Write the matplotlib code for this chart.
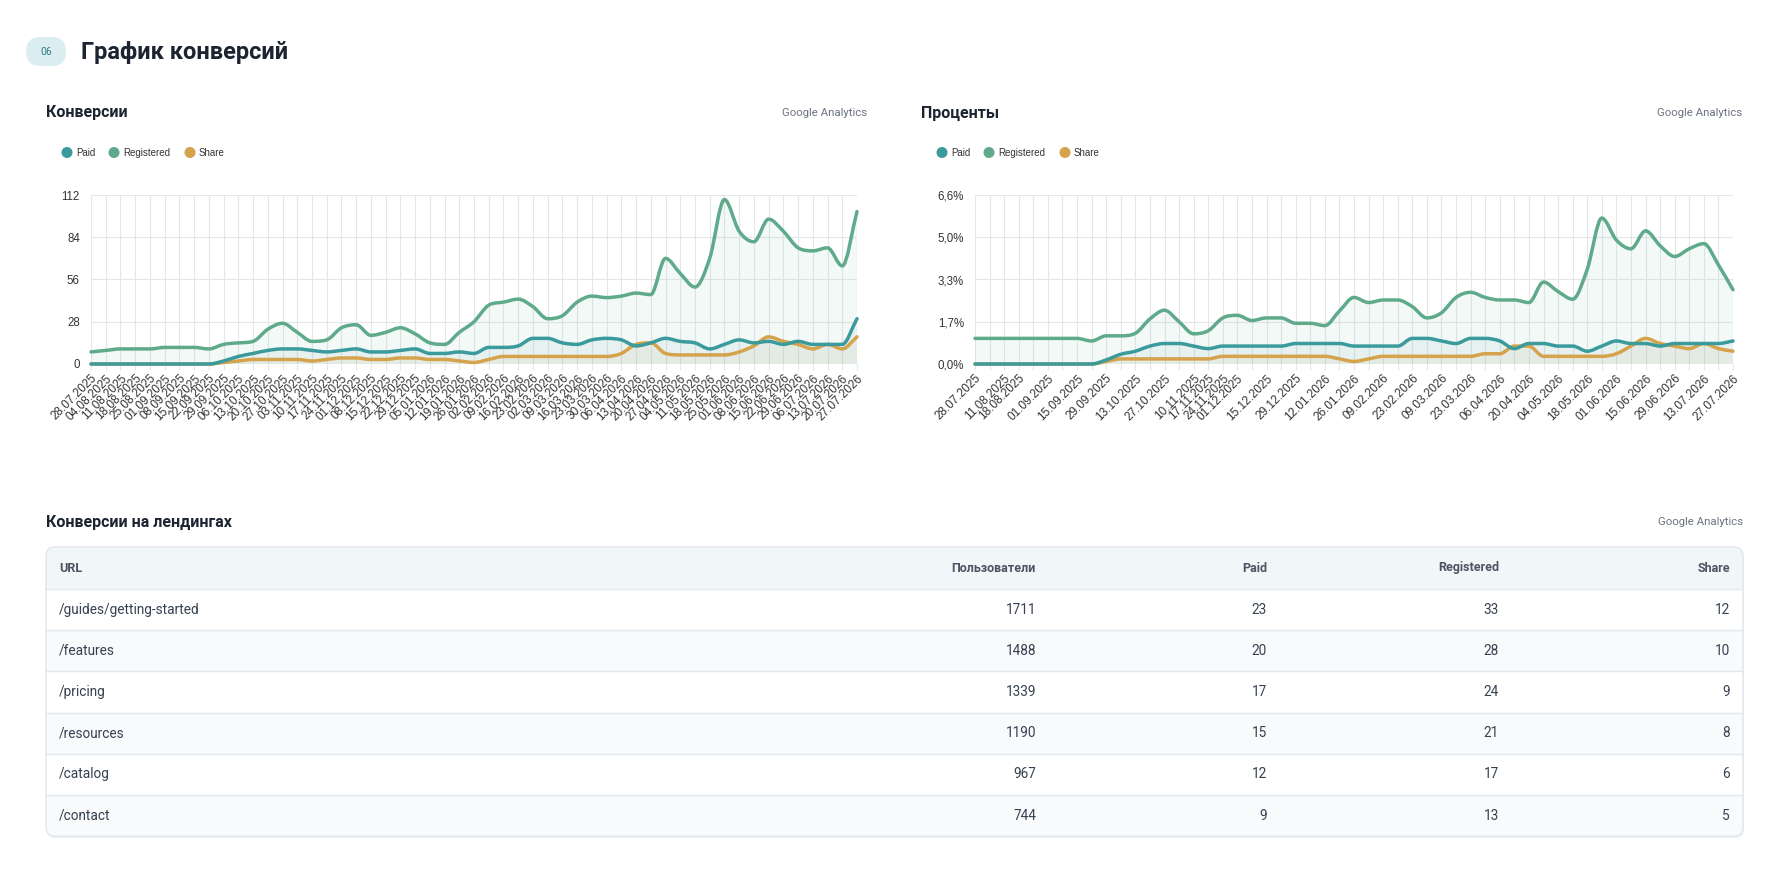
import matplotlib
matplotlib.use("Agg")
import matplotlib.pyplot as plt
from matplotlib.patches import FancyBboxPatch, Circle, Rectangle, PathPatch
from matplotlib.path import Path
import pandas as pd

# ---------------- data ----------------
DATES = pd.date_range("2025-07-28", periods=53, freq="7D").strftime("%d.%m.%Y").tolist()

SERIES_NAMES = ["Paid", "Registered", "Share"]

paid_count = [0, 0, 0, 0, 0, 0, 0, 0, 0, 2,
              5, 7, 9, 10, 10, 9, 8, 9, 10, 8,
              8, 9, 10, 7, 7, 8, 7, 11, 11, 12,
              17, 17, 14, 13, 16, 17, 16, 12, 14, 17,
              15, 14, 10, 13, 16, 14, 15, 13, 15, 13,
              13, 13, 30]
registered_count = [8, 9, 10, 10, 10, 11, 11, 11, 10, 13,
                    14, 15, 23, 27, 21, 15, 16, 24, 26, 19,
                    21, 24, 20, 14, 13, 21, 28, 39, 41, 43,
                    38, 30, 32, 41, 45, 44, 45, 47, 46, 70,
                    60, 51, 70, 109, 88, 81, 96, 88, 77, 75,
                    77, 65, 101]
share_count = [0, 0, 0, 0, 0, 0, 0, 0, 0, 1,
               2, 3, 3, 3, 3, 2, 3, 4, 4, 3,
               3, 4, 4, 3, 3, 2, 1, 3, 5, 5,
               5, 5, 5, 5, 5, 5, 7, 13, 14, 7,
               6, 6, 6, 6, 8, 12, 18, 15, 13, 10,
               13, 10, 18]

paid_pct = [0, 0, 0, 0, 0, 0, 0, 0, 0, 0.16,
            0.38, 0.5, 0.7, 0.8, 0.8, 0.7, 0.6, 0.7, 0.7, 0.7,
            0.7, 0.7, 0.8, 0.8, 0.8, 0.8, 0.7, 0.7, 0.7, 0.7,
            1.0, 1.0, 0.9, 0.8, 1.0, 1.0, 0.9, 0.6, 0.8, 0.8,
            0.7, 0.7, 0.5, 0.7, 0.9, 0.8, 0.8, 0.7, 0.8, 0.8,
            0.8, 0.8, 0.9]
registered_pct = [1.0, 1.0, 1.0, 1.0, 1.0, 1.0, 1.0, 1.0, 0.9, 1.1,
                  1.1, 1.2, 1.76, 2.1, 1.65, 1.18, 1.3, 1.8, 1.9, 1.7,
                  1.8, 1.8, 1.59, 1.59, 1.5, 2.07, 2.6, 2.4, 2.5, 2.5,
                  2.24, 1.8, 2.0, 2.6, 2.8, 2.6, 2.5, 2.5, 2.4, 3.2,
                  2.83, 2.53, 3.7, 5.7, 4.84, 4.5, 5.2, 4.62, 4.2, 4.5,
                  4.7, 3.87, 2.9]
share_pct = [0, 0, 0, 0, 0, 0, 0, 0, 0, 0.1,
             0.2, 0.2, 0.2, 0.2, 0.2, 0.2, 0.2, 0.3, 0.3, 0.3,
             0.3, 0.3, 0.3, 0.3, 0.3, 0.2, 0.1, 0.2, 0.3, 0.3,
             0.3, 0.3, 0.3, 0.3, 0.3, 0.4, 0.4, 0.7, 0.7, 0.3,
             0.3, 0.3, 0.3, 0.3, 0.4, 0.7, 1.0, 0.8, 0.7, 0.6,
             0.8, 0.6, 0.5]

LEFT_YTICKS = [0, 28, 56, 84, 112]
RIGHT_YTICKS = [0, 1.65, 3.3, 4.95, 6.6]
RIGHT_YLABELS = ["0,0%", "1,7%", "3,3%", "5,0%", "6,6%"]
RIGHT_XLABELS = ["28.07.2025", "11.08.2025", "18.08.2025", "01.09.2025", "15.09.2025",
                 "29.09.2025", "13.10.2025", "27.10.2025", "10.11.2025", "17.11.2025",
                 "24.11.2025", "01.12.2025", "15.12.2025", "29.12.2025", "12.01.2026",
                 "26.01.2026", "09.02.2026", "23.02.2026", "09.03.2026", "23.03.2026",
                 "06.04.2026", "20.04.2026", "04.05.2026", "18.05.2026", "01.06.2026",
                 "15.06.2026", "29.06.2026", "13.07.2026", "27.07.2026"]

TABLE_COLUMNS = ["URL", "Пользователи", "Paid", "Registered", "Share"]
table_url = ["/guides/getting-started", "/features", "/pricing", "/resources", "/catalog", "/contact"]
table_users = [1711, 1488, 1339, 1190, 967, 744]
table_paid = [23, 20, 17, 15, 12, 9]
table_registered = [33, 28, 24, 21, 17, 13]
table_share = [12, 10, 9, 8, 6, 5]

# ---------------- style ----------------
C_PAID = "#3b9a9c"
C_REG = "#5faa8b"
C_SHARE = "#d6a34d"
COLORS = [C_PAID, C_REG, C_SHARE]
GRID = "#e4e7ea"
DARK = "#1b2430"
MUTED = "#6b7280"
UI = ["Roboto", "DejaVu Sans"]
CH = ["Liberation Sans", "DejaVu Sans"]

W, H = 1788, 894
fig = plt.figure(figsize=(W / 100, H / 100), dpi=100)
fig.patch.set_facecolor("white")

ov = fig.add_axes([0, 0, 1, 1])
ov.set_xlim(0, W)
ov.set_ylim(H, 0)
ov.axis("off")


def ax_px(x0, y0, x1, y1):
    return fig.add_axes([x0 / W, 1 - y1 / H, (x1 - x0) / W, (y1 - y0) / H])


# header
ov.add_patch(FancyBboxPatch((26, 37), 40, 29, boxstyle="round,pad=0,rounding_size=14.5",
                            fc="#dcedf1", ec="none"))
ov.text(46, 52, "06", family=UI, fontsize=7.5, color="#2b7a87", ha="center", va="center")
ov.text(81, 52, "График конверсий", family=UI, fontsize=17, weight="bold", color=DARK,
        ha="left", va="center")


def section(x, xr, y, title):
    ov.text(x, y, title, family=UI, fontsize=11.5, weight="bold", color=DARK, ha="left", va="center")
    ov.text(xr, y, "Google Analytics", family=UI, fontsize=8.2, color=MUTED, ha="right", va="center")


section(46, 867, 113, "Конверсии")
section(921, 1742, 113, "Проценты")
section(46, 1743, 522, "Конверсии на лендингах")


def legend(xs, y):
    for (cx, tx), name, col in zip(xs, SERIES_NAMES, COLORS):
        ov.add_patch(Circle((cx, y), 5.5, fc=col, ec="none"))
        ov.text(tx, y, name, family=CH, fontsize=7, color="#333333", ha="left", va="center")


legend([(67, 76), (114, 123), (190, 199)], 152.5)
legend([(942, 951), (989, 998), (1065, 1074)], 152.5)


def smooth_path(xs, ys, close_to=None):
    """Monotone cubic Bezier path through the data points."""
    n = len(xs)
    d = [(ys[k + 1] - ys[k]) / (xs[k + 1] - xs[k]) for k in range(n - 1)]
    m = [0.0] * n
    m[0], m[-1] = d[0], d[-1]
    for k in range(1, n - 1):
        m[k] = 0.0 if d[k - 1] * d[k] <= 0 else (d[k - 1] + d[k]) / 2
    for k in range(n - 1):
        if d[k] == 0:
            m[k] = m[k + 1] = 0.0
        else:
            a, b = m[k] / d[k], m[k + 1] / d[k]
            s = a * a + b * b
            if s > 9:
                t = 3 / s ** 0.5
                m[k], m[k + 1] = t * a * d[k], t * b * d[k]
    verts = [(xs[0], ys[0])]
    codes = [Path.MOVETO]
    for k in range(n - 1):
        h = xs[k + 1] - xs[k]
        verts += [(xs[k] + h / 3, ys[k] + m[k] * h / 3),
                  (xs[k + 1] - h / 3, ys[k + 1] - m[k + 1] * h / 3),
                  (xs[k + 1], ys[k + 1])]
        codes += [Path.CURVE4] * 3
    if close_to is not None:
        verts += [(xs[-1], close_to), (xs[0], close_to), (xs[0], ys[0])]
        codes += [Path.LINETO, Path.LINETO, Path.CLOSEPOLY]
    return Path(verts, codes)


def chart(ax, series, yticks, ylabels, xlabels):
    n = len(DATES)
    x = list(range(n))
    for vals, col in zip(series, COLORS):
        ax.add_patch(PathPatch(smooth_path(x, vals, close_to=0), fc=col, alpha=0.07,
                               ec="none", zorder=1))
    for vals, col, z in zip(series[::-1], COLORS[::-1], [3, 4, 5]):
        ax.add_patch(PathPatch(smooth_path(x, vals), fc="none", ec=col, lw=2.5,
                               joinstyle="round", capstyle="round", zorder=z, clip_on=False))
    ax.set_xlim(0, n - 1)
    ax.set_ylim(yticks[0], yticks[-1])
    ax.set_yticks(yticks)
    ax.set_yticklabels(ylabels, family=CH, fontsize=8.3, color="#333333")
    ax.set_xticks(x)
    ax.set_xticklabels(xlabels, family=CH, fontsize=8.5, color="#333333",
                       rotation=45, ha="right", rotation_mode="anchor")
    ax.tick_params(axis="x", length=4, color=GRID, pad=2)
    ax.tick_params(axis="y", length=0, pad=8)
    ax.grid(True, color=GRID, lw=0.8, zorder=0)
    ax.set_axisbelow(True)
    for s in ax.spines.values():
        s.set_visible(False)
    ax.set_facecolor("none")


axL = ax_px(91, 195, 857, 364)
chart(axL, [paid_count, registered_count, share_count], LEFT_YTICKS,
      [str(v) for v in LEFT_YTICKS], DATES)

axR = ax_px(975, 195, 1733, 364)
chart(axR, [paid_pct, registered_pct, share_pct], RIGHT_YTICKS, RIGHT_YLABELS,
      [d if d in RIGHT_XLABELS else "" for d in DATES])

# ---------------- table ----------------
TX0, TX1, TY0, HDR, ROWH = 46, 1743, 547, 42, 41.2
nrows = len(table_url)
TY1 = TY0 + HDR + ROWH * nrows

ov.add_patch(FancyBboxPatch((TX0 + 1, TY0 + 2), TX1 - TX0, TY1 - TY0,
                            boxstyle="round,pad=0,rounding_size=9", fc="#eef1f3", ec="none", zorder=1))
ov.add_patch(FancyBboxPatch((TX0, TY0), TX1 - TX0, TY1 - TY0,
                            boxstyle="round,pad=0,rounding_size=9", fc="white", ec="none", zorder=2))
ov.add_patch(FancyBboxPatch((TX0, TY0), TX1 - TX0, HDR + 10,
                            boxstyle="round,pad=0,rounding_size=9", fc="#f1f6f8", ec="none", zorder=3))
for i in range(nrows):
    y = TY0 + HDR + ROWH * i
    fc = "white" if i % 2 == 0 else "#f8fafb"
    h = ROWH if i < nrows - 1 else ROWH - 9
    ov.add_patch(Rectangle((TX0, y), TX1 - TX0, h, fc=fc, ec="none", zorder=4))
    if i == nrows - 1:
        ov.add_patch(FancyBboxPatch((TX0, y), TX1 - TX0, ROWH,
                                    boxstyle="round,pad=0,rounding_size=9", fc=fc, ec="none", zorder=3.5))
    ov.plot([TX0, TX1], [y, y], color="#e3e8ec", lw=1, zorder=5)
ov.add_patch(FancyBboxPatch((TX0, TY0), TX1 - TX0, TY1 - TY0,
                            boxstyle="round,pad=0,rounding_size=9", fc="none", ec="#e2e7eb",
                            lw=1, zorder=6))

COL_X = [59, 1036, 1267, 1499, 1730]
COL_HA = ["left", "right", "right", "right", "right"]
for cx, ha, name in zip(COL_X, COL_HA, TABLE_COLUMNS):
    ov.text(cx, TY0 + HDR / 2, name, family=UI, fontsize=9, weight="bold", color="#4b5563",
            ha=ha, va="center", zorder=7)

rows = list(zip(table_url, table_users, table_paid, table_registered, table_share))
for i, row in enumerate(rows):
    y = TY0 + HDR + ROWH * (i + 0.5)
    for cx, ha, val in zip(COL_X, COL_HA, row):
        ov.text(cx, y, str(val), family=UI, fontsize=9.8, color="#374151",
                ha=ha, va="center", zorder=7)

fig.savefig("out.png", dpi=100, facecolor="white")
